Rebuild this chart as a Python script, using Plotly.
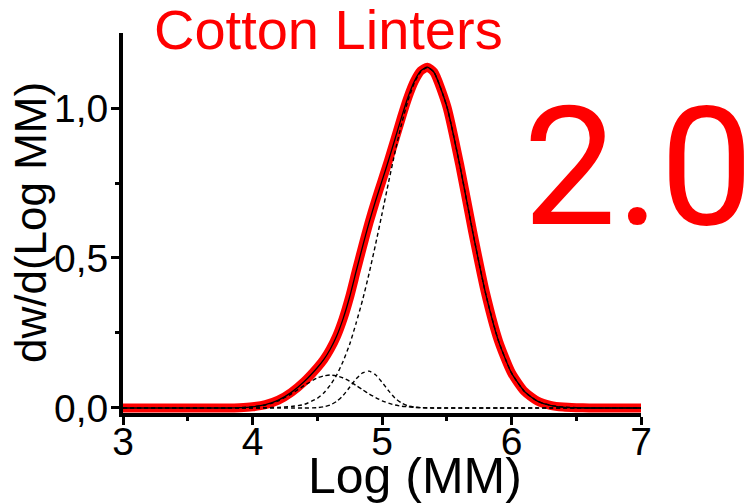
import plotly.graph_objects as go

# Molar-mass distribution of cotton linters with its three fitted Gaussian peaks
log_mm = [3.0, 3.5, 3.8, 3.9, 4.0, 4.1, 4.2, 4.3, 4.4, 4.5, 4.55, 4.6, 4.65, 4.7,
          4.75, 4.8, 4.85, 4.9, 4.95, 5.0, 5.05, 5.1, 5.15, 5.2, 5.25, 5.3, 5.35,
          5.4, 5.5, 5.6, 5.7, 5.8, 5.9, 6.0, 6.1, 6.2, 6.3, 6.4, 6.5, 6.6, 6.7, 7.0]

measured = [0, 0, 0, 0.001, 0.004, 0.011, 0.026, 0.052, 0.088, 0.134, 0.161, 0.196,
            0.240, 0.298, 0.370, 0.455, 0.538, 0.618, 0.690, 0.757, 0.825, 0.896,
            0.968, 1.035, 1.089, 1.124, 1.136, 1.120, 1.006, 0.811, 0.588, 0.382,
            0.223, 0.117, 0.055, 0.023, 0.009, 0.003, 0.001, 0, 0, 0]

fit_sum = measured

peak_main = [0, 0, 0, 0, 0, 0.001, 0.002, 0.005, 0.012, 0.032, 0.050, 0.076, 0.110,
             0.156, 0.212, 0.283, 0.360, 0.448, 0.545, 0.647, 0.751, 0.852, 0.945,
             1.024, 1.084, 1.122, 1.135, 1.120, 1.006, 0.811, 0.588, 0.382, 0.223,
             0.117, 0.055, 0.023, 0.009, 0.003, 0.001, 0, 0, 0]

peak_low = [0, 0, 0, 0.001, 0.004, 0.010, 0.024, 0.047, 0.075, 0.100, 0.107, 0.110,
            0.107, 0.100, 0.089, 0.075, 0.061, 0.047, 0.035, 0.024, 0.016, 0.010,
            0.006, 0.004, 0.002, 0.001, 0.001, 0, 0, 0, 0, 0, 0, 0, 0, 0, 0, 0, 0,
            0, 0, 0]

peak_mid = [0, 0, 0, 0, 0, 0, 0, 0, 0, 0.001, 0.004, 0.010, 0.022, 0.042, 0.069,
            0.097, 0.117, 0.123, 0.111, 0.086, 0.058, 0.033, 0.017, 0.007, 0.003,
            0.001, 0, 0, 0, 0, 0, 0, 0, 0, 0, 0, 0, 0, 0, 0, 0, 0]

x_ticks = [3, 4, 5, 6, 7]
x_tick_text = ["3", "4", "5", "6", "7"]
y_ticks = [0, 0.5, 1.0]
y_tick_text = ["0,0", "0,5", "1,0"]

RED = "#ff0000"
FONT = "Liberation Sans, Arial, sans-serif"

fig = go.Figure()

fig.add_trace(go.Scatter(x=log_mm, y=measured, mode="lines",
                         line=dict(color=RED, width=9, shape="spline", smoothing=0.6),
                         hoverinfo="skip"))
for comp in (peak_main, peak_low, peak_mid):
    fig.add_trace(go.Scatter(x=log_mm, y=comp, mode="lines",
                             line=dict(color="black", width=1.4, dash="4px,3px",
                                       shape="spline", smoothing=0.6),
                             hoverinfo="skip"))
fig.add_trace(go.Scatter(x=log_mm, y=fit_sum, mode="lines",
                         line=dict(color="black", width=1.3, shape="spline", smoothing=0.6),
                         hoverinfo="skip"))

axis_common = dict(showgrid=False, zeroline=False, showline=True, linecolor="black",
                   linewidth=4, ticks="outside", ticklen=8, tickwidth=3,
                   tickcolor="black", tickfont=dict(family=FONT, size=39, color="black"))

fig.update_xaxes(range=[3, 7], tickmode="array", tickvals=x_ticks, ticktext=x_tick_text,
                 ticklabelstandoff=-17,
                 minor=dict(tickmode="array", tickvals=[3.5, 4.5, 5.5, 6.5], ticks="outside",
                            ticklen=4, tickwidth=3, tickcolor="black"),
                 **axis_common)
fig.update_yaxes(range=[-0.0167, 1.25], tickmode="array", tickvals=y_ticks,
                 ticktext=y_tick_text, ticklabelstandoff=-5,
                 minor=dict(tickmode="array", tickvals=[0.25, 0.75], ticks="outside",
                            ticklen=4, tickwidth=3, tickcolor="black"),
                 **axis_common)

fig.add_annotation(text="Log (MM)", xref="paper", yref="paper", x=0.5637, y=-0.166,
                   xanchor="center", yanchor="middle", showarrow=False,
                   font=dict(family=FONT, size=50, color="black"))
fig.add_annotation(text="dw/d(Log MM)", xref="paper", yref="paper", x=-0.1795, y=0.5,
                   xanchor="center", yanchor="middle", textangle=-90, showarrow=False,
                   font=dict(family=FONT, size=44, color="black"))
fig.add_annotation(text="Cotton Linters", xref="paper", yref="paper", x=0.3958, y=1.008,
                   xanchor="center", yanchor="middle", showarrow=False,
                   font=dict(family=FONT, size=56, color=RED))
fig.add_annotation(text="2.0", xref="paper", yref="paper", x=0.994, y=0.646,
                   xanchor="center", yanchor="middle", showarrow=False,
                   font=dict(family="Roboto", size=166, color=RED))

fig.update_layout(width=751, height=503, showlegend=False,
                  margin=dict(l=123, r=110, t=33, b=90),
                  paper_bgcolor="white", plot_bgcolor="white")

fig.write_html("out.html")
